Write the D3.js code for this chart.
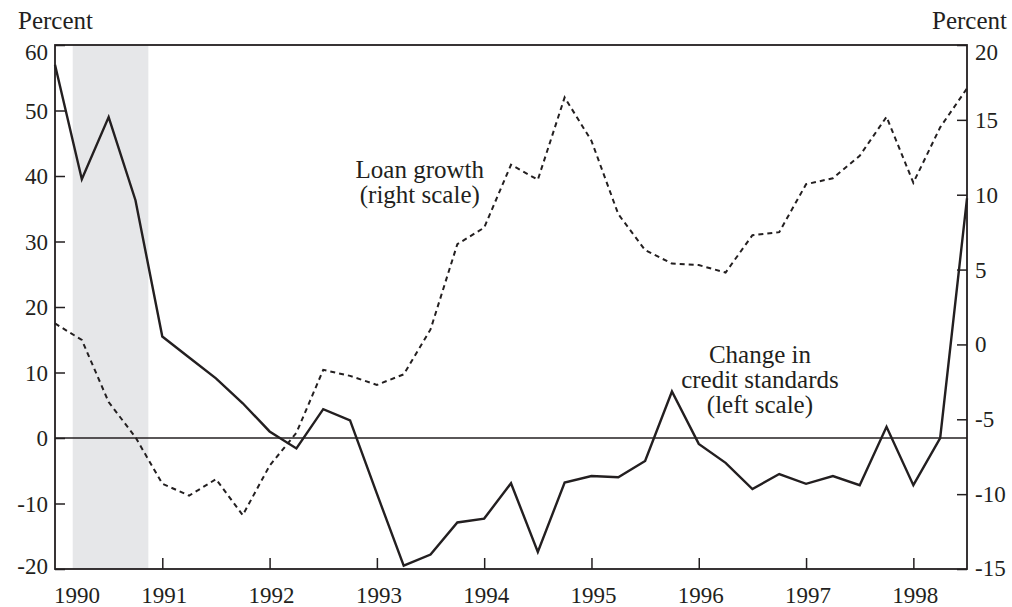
<!DOCTYPE html>
<html><head><meta charset="utf-8">
<script src="https://cdn.jsdelivr.net/npm/d3@7"></script>
<style>
html,body{margin:0;padding:0;background:#fff;}
svg{display:block;}
</style></head>
<body><svg id="c" width="1012" height="607"></svg>
<script>
// Quarterly dates 1990Q1 .. 1998Q3
const dates = d3.range(35).map(i => 1990 + i * 0.25);
// Change in credit standards (left scale, percent)
const creditStandards = [57.0, 39.5, 49.0, 36.3, 15.5, 12.3, 9.1, 5.3, 1.0, -1.6, 4.4, 2.7,
  -8.5, -19.5, -17.8, -12.9, -12.3, -6.9, -17.4, -6.8, -5.8, -6.0, -3.5, 7.1,
  -0.9, -3.8, -7.8, -5.5, -7.0, -5.8, -7.2, 1.7, -7.2, 0.0, 36.6];
// Loan growth (right scale, percent)
const loanGrowth = [1.4, 0.3, -3.85, -6.2, -9.3, -10.1, -9.0, -11.4, -8.1, -5.9, -1.7, -2.1,
  -2.7, -2.0, 1.0, 6.7, 7.8, 12.0, 11.0, 16.5, 13.6, 8.7, 6.3, 5.4,
  5.3, 4.8, 7.3, 7.5, 10.7, 11.1, 12.6, 15.2, 10.8, 14.5, 17.1];
const recession = [1990.165, 1990.87];
const yearTicks = [1990, 1991, 1992, 1993, 1994, 1995, 1996, 1997, 1998];
const leftTicks = [-20, -10, 0, 10, 20, 30, 40, 50, 60];
const rightTicks = [-15, -10, -5, 0, 5, 10, 15, 20];

const FONT = "'Liberation Serif', 'DejaVu Serif', 'Times New Roman', Times, serif";
const svg = d3.select("#c").style("font-family", FONT);
const L = 55, R = 967, T = 45, B = 569;
const x = d3.scaleLinear().domain([1990, 1998.5]).range([L, R]);
const yL = d3.scaleLinear().domain([-20, 60]).range([B, T]);
const yR = d3.scaleLinear().domain([-15, 20]).range([B, T]);
const ink = "#231f20";
const txt = sel => sel.style("font-family", FONT).attr("fill", ink);

// recession shading
svg.append("rect").attr("x", x(recession[0])).attr("y", T)
  .attr("width", x(recession[1]) - x(recession[0])).attr("height", B - T)
  .attr("fill", "#e6e7e9");

// zero line
svg.append("line").attr("x1", L).attr("x2", R).attr("y1", yL(0)).attr("y2", yL(0))
  .attr("stroke", ink).attr("stroke-width", 1.3);

// axes (ticks only, inward)
const fs = 23;
const gL = svg.append("g").attr("transform", `translate(${L},0)`)
  .call(d3.axisRight(yL).tickValues(leftTicks).tickSize(10).tickFormat(""));
const gR = svg.append("g").attr("transform", `translate(${R},0)`)
  .call(d3.axisLeft(yR).tickValues(rightTicks).tickSize(10).tickFormat(""));
const gB = svg.append("g").attr("transform", `translate(0,${B})`)
  .call(d3.axisTop(x).tickValues(yearTicks.slice(1)).tickSize(11).tickFormat(""));
[gL, gR, gB].forEach(g => {
  g.select(".domain").remove();
  g.selectAll(".tick line").attr("stroke", ink).attr("stroke-width", 1.5);
});

// frame
svg.append("rect").attr("x", L).attr("y", T).attr("width", R - L).attr("height", B - T)
  .attr("fill", "none").attr("stroke", ink).attr("stroke-width", 1.8);

// tick labels
svg.append("g").selectAll("text").data(leftTicks).join("text")
  .attr("x", 48).attr("y", d => yL(d) + (d === 60 ? 7 : d === -20 ? -3 : 0))
  .attr("dy", "0.35em").attr("text-anchor", "end").attr("font-size", fs)
  .text(d => d).call(txt);
svg.append("g").selectAll("text").data(rightTicks).join("text")
  .attr("x", 975).attr("y", d => yR(d) + (d === 20 ? 7 : d === -15 ? -1 : 0))
  .attr("dy", "0.35em").attr("text-anchor", "start").attr("font-size", fs)
  .text(d => d).call(txt);
svg.append("g").selectAll("text").data(yearTicks).join("text")
  .attr("x", d => x(d) + (d === 1990 ? 22 : 2)).attr("y", 603)
  .attr("text-anchor", "middle").attr("font-size", fs)
  .text(d => d).call(txt);

// unit labels
svg.append("text").attr("x", 18).attr("y", 29).attr("font-size", 25).text("Percent").call(txt);
svg.append("text").attr("x", 1007).attr("y", 29).attr("text-anchor", "end").attr("font-size", 25).text("Percent").call(txt);

// lines
const lineL = d3.line().x((d, i) => x(dates[i])).y(d => yL(d));
const lineR = d3.line().x((d, i) => x(dates[i])).y(d => yR(d));
svg.append("path").datum(loanGrowth).attr("d", lineR).attr("fill", "none")
  .attr("stroke", ink).attr("stroke-width", 2).attr("stroke-dasharray", "5,4");
svg.append("path").datum(creditStandards).attr("d", lineL).attr("fill", "none")
  .attr("stroke", ink).attr("stroke-width", 2.4).attr("stroke-linejoin", "miter");

// annotations
const ann = (lines, cx, y0) => {
  lines.forEach((t, i) => svg.append("text").attr("x", cx).attr("y", y0 + i * 25)
    .attr("text-anchor", "middle").attr("font-size", 25).text(t).call(txt));
};
ann(["Loan growth", "(right scale)"], x(1993.4), yR(11.1));
ann(["Change in", "credit standards", "(left scale)"], x(1996.57), yL(11.5));
</script></body></html>
